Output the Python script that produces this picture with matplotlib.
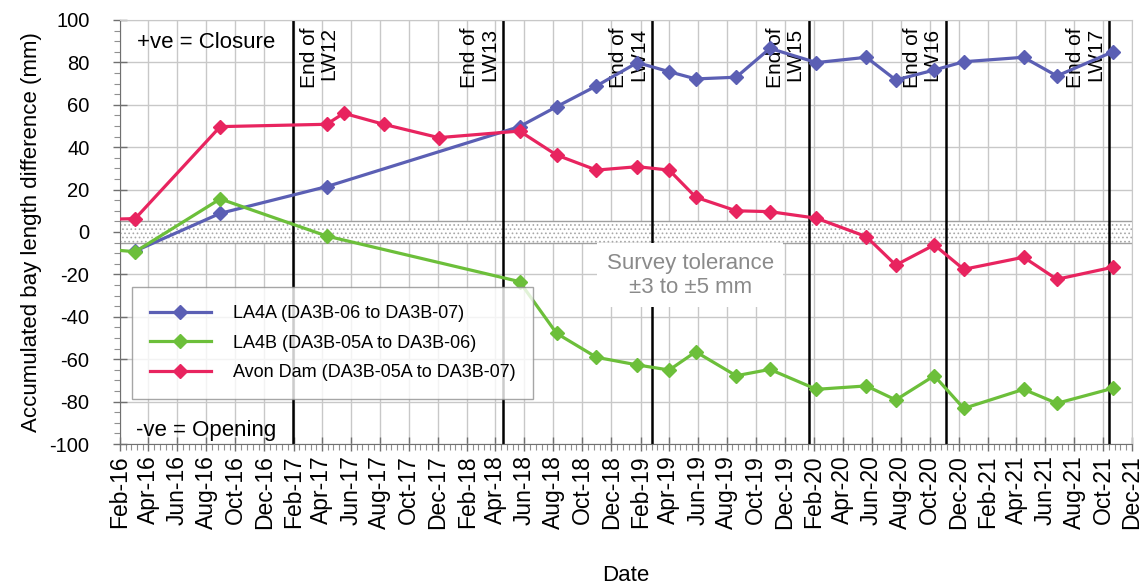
import matplotlib
matplotlib.use("Agg")
import matplotlib.pyplot as plt
import matplotlib.dates as mdates
import numpy as np
from datetime import datetime

plt.rcParams['font.family'] = ['Liberation Sans', 'DejaVu Sans']
plt.rcParams['hatch.linewidth'] = 0.7
plt.rcParams['axes.unicode_minus'] = False

# survey dates
dates_ab = ["2016-03-04", "2016-08-30", "2017-04-11", "2018-05-22", "2018-08-08",
            "2018-10-31", "2019-01-25", "2019-04-02", "2019-05-28", "2019-08-21",
            "2019-10-31", "2020-02-06", "2020-05-21", "2020-07-22", "2020-10-11",
            "2020-12-12", "2021-04-17", "2021-06-26", "2021-10-22"]
la4a = [-9, 8.8, 21.4, 49.7, 59.1, 68.9, 79.9, 75.6, 72.2, 73.0,
        86.6, 79.9, 82.4, 71.7, 76.4, 80.3, 82.4, 73.6, 85.0]

dates_b = ["2016-01-05"] + dates_ab
la4b = [-8.2, -9.3, 15.6, -1.9, -23.4, -47.8, -59.1, -62.7, -65.1, -56.5,
        -67.8, -64.8, -74.2, -72.6, -79.2, -67.8, -83.2, -74.2, -80.8, -73.7]

dates_dam = ["2016-01-05", "2016-03-04", "2016-08-30", "2017-04-11", "2017-05-17",
             "2017-08-09", "2017-12-03", "2018-05-22", "2018-08-08", "2018-10-31",
             "2019-01-25", "2019-04-02", "2019-05-28", "2019-08-21", "2019-10-31",
             "2020-02-06", "2020-05-21", "2020-07-22", "2020-10-11", "2020-12-12",
             "2021-04-17", "2021-06-26", "2021-10-22"]
avon = [6.0, 6.3, 49.7, 50.8, 56.0, 50.8, 44.5, 47.6, 36.3, 29.2, 30.8, 29.2,
        16.4, 10.0, 9.6, 6.5, -2.2, -15.6, -6.1, -17.6, -11.9, -22.3, -16.6]

lw_names = ["LW12", "LW13", "LW14", "LW15", "LW16", "LW17"]
lw_dates = ["2017-01-30", "2018-04-18", "2019-02-25", "2020-01-21", "2020-11-04", "2021-10-14"]

labels = ["LA4A (DA3B-06 to DA3B-07)", "LA4B (DA3B-05A to DA3B-06)",
          "Avon Dam (DA3B-05A to DA3B-07)"]
colors = ["#5b5fb4", "#6cbf3a", "#e8245f"]


def to_dt(lst):
    return [datetime.strptime(d, "%Y-%m-%d") for d in lst]


fig = plt.figure(figsize=(11.48, 5.84), dpi=100)
ax = fig.add_axes([0.1045, 0.2397, 0.8815, 0.7261])

x0, x1 = datetime(2016, 2, 1), datetime(2021, 12, 1)
ax.set_xlim(x0, x1)
ax.set_ylim(-100, 100)

# tolerance band
ax.fill_between([x0, x1], -5, 5, facecolor="white", edgecolor="#a8a8a8",
                hatch="....", linewidth=0, zorder=1)
ax.axhline(5, color="#a0a0a0", lw=1, zorder=1.5)
ax.axhline(-5, color="#a0a0a0", lw=1, zorder=1.5)

# end of longwall lines
for name, d in zip(lw_names, to_dt(lw_dates)):
    ax.axvline(d, color="black", lw=1.8, zorder=2)
    if name == "LW12":
        ax.annotate("End of\n" + name, xy=(d, 96.5), xytext=(5, 0), textcoords="offset points",
                    rotation=90, ha="left", va="top", multialignment="right", fontsize=15,
                    linespacing=1.05)
    else:
        ax.annotate("End of\n" + name, xy=(d, 96.5), xytext=(-3, 0), textcoords="offset points",
                    rotation=90, ha="right", va="top", multialignment="right", fontsize=15,
                    linespacing=1.05)

series = [(to_dt(dates_ab), la4a), (to_dt(dates_b), la4b), (to_dt(dates_dam), avon)]
for (xd, yv), lab, c in zip(series, labels, colors):
    ax.plot(xd, yv, color=c, lw=2.3, marker="D", ms=7, label=lab, zorder=4, clip_on=True)

ax.text(datetime(2019, 5, 16), -20.5, "Survey tolerance\n±3 to ±5 mm", color="#8a8a8a",
        fontsize=16, ha="center", va="center", zorder=3, linespacing=1.15,
        bbox=dict(facecolor="white", edgecolor="none", pad=7))

ax.text(0.017, 0.972, "+ve = Closure", transform=ax.transAxes, fontsize=16, va="top")
ax.text(0.016, 0.008, "-ve = Opening", transform=ax.transAxes, fontsize=16, va="bottom")

# axes styling
ax.xaxis.set_major_locator(mdates.MonthLocator(bymonth=[2, 4, 6, 8, 10, 12]))
ax.xaxis.set_major_formatter(mdates.DateFormatter("%b-%y"))
majors = mdates.date2num([datetime(y, m, 1) for y in range(2016, 2022) for m in (2, 4, 6, 8, 10, 12)])
majors = majors[(majors >= mdates.date2num(x0)) & (majors <= mdates.date2num(x1))]
minors = []
for a, b in zip(majors[:-1], majors[1:]):
    minors.extend(np.linspace(a, b, 6)[1:-1])
ax.xaxis.set_minor_locator(matplotlib.ticker.FixedLocator(minors))
ax.yaxis.set_major_locator(matplotlib.ticker.MultipleLocator(20))
ax.yaxis.set_minor_locator(matplotlib.ticker.MultipleLocator(5))

ax.tick_params(axis="x", which="major", rotation=90, labelsize=16.5, direction="inout", length=10,
               width=1, color="#707070", pad=3)
ax.tick_params(axis="y", which="major", labelsize=14.5, direction="inout", length=10,
               width=1, color="#707070", pad=17)
ax.tick_params(which="minor", direction="out", length=4, width=0.8, color="#909090")

ax.grid(True, which="major", color="#c8c8c8", lw=1, zorder=0)
ax.set_axisbelow(True)
for s in ["top", "right"]:
    ax.spines[s].set_color("#c8c8c8")
for s in ["left", "bottom"]:
    ax.spines[s].set_color("#707070")

ax.set_ylabel("Accumulated bay length difference (mm)", fontsize=16, labelpad=5)
ax.set_xlabel("Date", fontsize=16, labelpad=26)

leg = ax.legend(loc="upper left", bbox_to_anchor=(0.1147, 0.5086), bbox_transform=fig.transFigure,
                fontsize=13, frameon=True, fancybox=False, edgecolor="#909090",
                borderaxespad=0, handlelength=3.4, handletextpad=1.2, borderpad=1.0,
                labelspacing=0.7)
leg.get_frame().set_linewidth(1)
leg.set_zorder(5)

fig.savefig("out.png", dpi=100)
